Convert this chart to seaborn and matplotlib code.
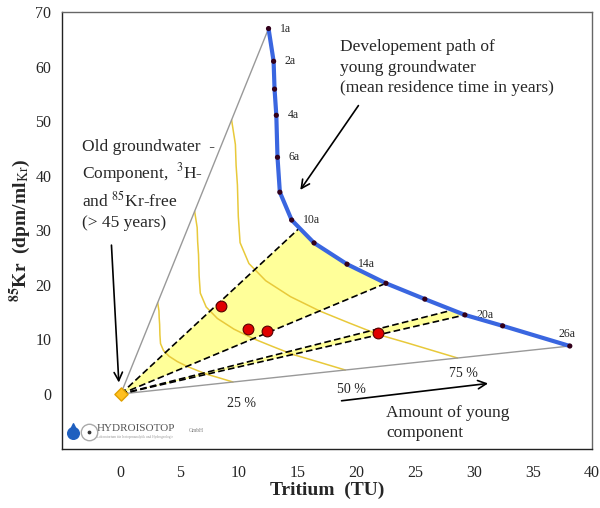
import numpy as np
import matplotlib
matplotlib.use("Agg")
import matplotlib.pyplot as plt
import seaborn as sns

# development path of young groundwater (points on the curve)
curve_tritium = [12.54, 12.97, 13.05, 13.2, 13.3, 13.5, 14.5, 16.4, 19.2, 22.5, 25.8, 29.2, 32.4, 38.1]
curve_kr = [67.0, 61.0, 55.9, 51.1, 43.4, 37.0, 31.9, 27.7, 23.8, 20.3, 17.4, 14.5, 12.5, 8.8]
curve_labels = ["1a", "2a", "", "4a", "6a", "", "10a", "", "14a", "", "", "20a", "", "26a"]

# mixing fractions of the young component
fractions = [0.25, 0.50, 0.75]
fraction_labels = ["25 %", "50 %", "75 %"]
fraction_label_pos = [(10.25, -1.8), (19.6, 0.9), (29.1, 3.8)]

# samples
sample_tritium = [8.5, 10.8, 12.4, 21.8]
sample_kr = [16.1, 11.9, 11.5, 11.2]

# dashed mixing lines bounding the yellow bands (end points on the curve)
band1_tritium = [15.1, 16.4, 19.2, 22.5]
band1_kr = [30.3, 27.7, 23.8, 20.3]
band2_tritium = [27.8, 29.2]
band2_kr = [15.2, 14.5]

x_ticks = [-5, 0, 5, 10, 15, 20, 25, 30, 35, 40]
y_ticks = [-10, 0, 10, 20, 30, 40, 50, 60, 70]

sns.set_theme(style="white")
plt.rcParams["font.family"] = ["Liberation Serif", "DejaVu Serif"]
plt.rcParams["mathtext.fontset"] = "stix"

fig = plt.figure(figsize=(6.0, 5.08), dpi=100)
ax = fig.add_axes([0.103, 0.117, 0.884, 0.859])

# yellow bands
ax.fill([0] + band1_tritium, [0] + band1_kr, color="#ffff99", zorder=1, lw=0)
ax.fill([0] + band2_tritium, [0] + band2_kr, color="#ffff99", zorder=1, lw=0)

# iso-fraction lines
ct = np.array(curve_tritium)
ck = np.array(curve_kr)
for f in fractions:
    ax.plot(ct * f, ck * f, color="#e8c93a", lw=1.1, zorder=2)
for lab, (px, py) in zip(fraction_labels, fraction_label_pos):
    ax.text(px, py, lab, fontsize=10, ha="center", va="center", color="#222222")

# grey envelope lines
ax.plot([0, curve_tritium[0]], [0, curve_kr[0]], color="#999999", lw=1, zorder=2)
ax.plot([0, curve_tritium[-1]], [0, curve_kr[-1]], color="#999999", lw=1, zorder=2)

# dashed lines
for t, k in [(band1_tritium[0], band1_kr[0]), (band1_tritium[-1], band1_kr[-1]),
             (band2_tritium[0], band2_kr[0]), (band2_tritium[-1], band2_kr[-1])]:
    ax.plot([0, t], [0, k], color="black", lw=1.2, ls=(0, (4, 2)), zorder=3)

# development curve
sns.lineplot(x=curve_tritium, y=curve_kr, sort=False, color="#3a66e0", lw=3, ax=ax, zorder=4)
sns.scatterplot(x=curve_tritium, y=curve_kr, color="#33001a", s=14, edgecolor="none", ax=ax, zorder=5)
for t, k, lab in zip(curve_tritium, curve_kr, curve_labels):
    if not lab:
        continue
    if lab == "26a":
        ax.annotate(lab, (t, k), xytext=(-2, 4), textcoords="offset points", fontsize=8.5, ha="center", va="bottom")
    else:
        ax.annotate(lab, (t, k), xytext=(8, 0), textcoords="offset points", fontsize=8.5, ha="left", va="center")

# samples and old component
sns.scatterplot(x=sample_tritium, y=sample_kr, color="#e00000", s=60, edgecolor="#550000", linewidth=0.8, ax=ax, zorder=6)
ax.scatter([0], [0], marker="D", s=45, color="#ffc020", edgecolor="#e0a000", zorder=6)

# annotations
ax.text(18.6, 65.0, "Developement path of\nyoung groundwater\n(mean residence time in years)",
        fontsize=12.5, ha="left", va="top", linespacing=1.35)
ax.annotate("", xy=(15.1, 37.0), xytext=(20.3, 53.3),
            arrowprops=dict(arrowstyle="->", color="black", lw=1.2, mutation_scale=15))
ax.text(-3.3, 46.8, "Old groundwater  -\nComponent,  $^{3}$H-\nand $^{85}$Kr-free\n(> 45 years)",
        fontsize=12.5, ha="left", va="top", linespacing=1.35)
ax.annotate("", xy=(-0.15, 1.6), xytext=(-0.8, 27.8),
            arrowprops=dict(arrowstyle="->", color="black", lw=1.2, mutation_scale=15))
ax.annotate("", xy=(31.4, 2.0), xytext=(18.5, -1.3),
            arrowprops=dict(arrowstyle="->", color="black", lw=1.2, mutation_scale=15))
ax.text(22.5, -2.0, "Amount of young\ncomponent", fontsize=12.5, ha="left", va="top", linespacing=1.3)

# logo
ax.scatter([-4.05], [-7.1], marker="o", s=70, color="#1f5fbf", zorder=6)
ax.scatter([-4.05], [-6.1], marker="^", s=30, color="#1f5fbf", zorder=6)
ax.scatter([-2.7], [-7.0], marker="o", s=140, facecolor="white", edgecolor="#aaaaaa", zorder=6)
ax.scatter([-2.7], [-7.0], marker="o", s=3, color="#333333", zorder=7)
ax.text(-2.0, -6.4, "HYDROISOTOP", fontsize=8, color="#555555", ha="left", va="center")
ax.text(5.8, -6.6, "GmbH", fontsize=4, color="#777777", ha="left", va="center")
ax.text(-2.0, -7.9, "Laboratorium f\u00fcr Isotopenanalytik und Hydrogeologie", fontsize=2.5,
        color="#999999", ha="left", va="center")

ax.set_xlim(-5, 40)
ax.set_ylim(-10, 70)
ax.set_xticks(x_ticks)
ax.set_xticklabels(["" if v == -5 else str(v) for v in x_ticks])
ax.set_yticks(y_ticks)
ax.set_yticklabels(["" if v == -10 else str(v) for v in y_ticks])
ax.tick_params(axis="both", direction="inout", length=7, width=1, labelsize=11.5, color="#222222")
ax.tick_params(axis="x", pad=8)
ax.tick_params(axis="y", pad=4)
for s in ax.spines.values():
    s.set_color("#222222")
    s.set_linewidth(1)
ax.spines["top"].set_color("#666666")
ax.spines["right"].set_color("#666666")

ax.set_xlabel("Tritium  (TU)", fontsize=14, fontweight="bold", labelpad=1)
ax.set_ylabel(r"$^{\mathbf{85}}$Kr  (dpm/ml$_{\rm Kr}$)", fontsize=14, fontweight="bold", labelpad=2)

fig.savefig("out.png", dpi=100)
